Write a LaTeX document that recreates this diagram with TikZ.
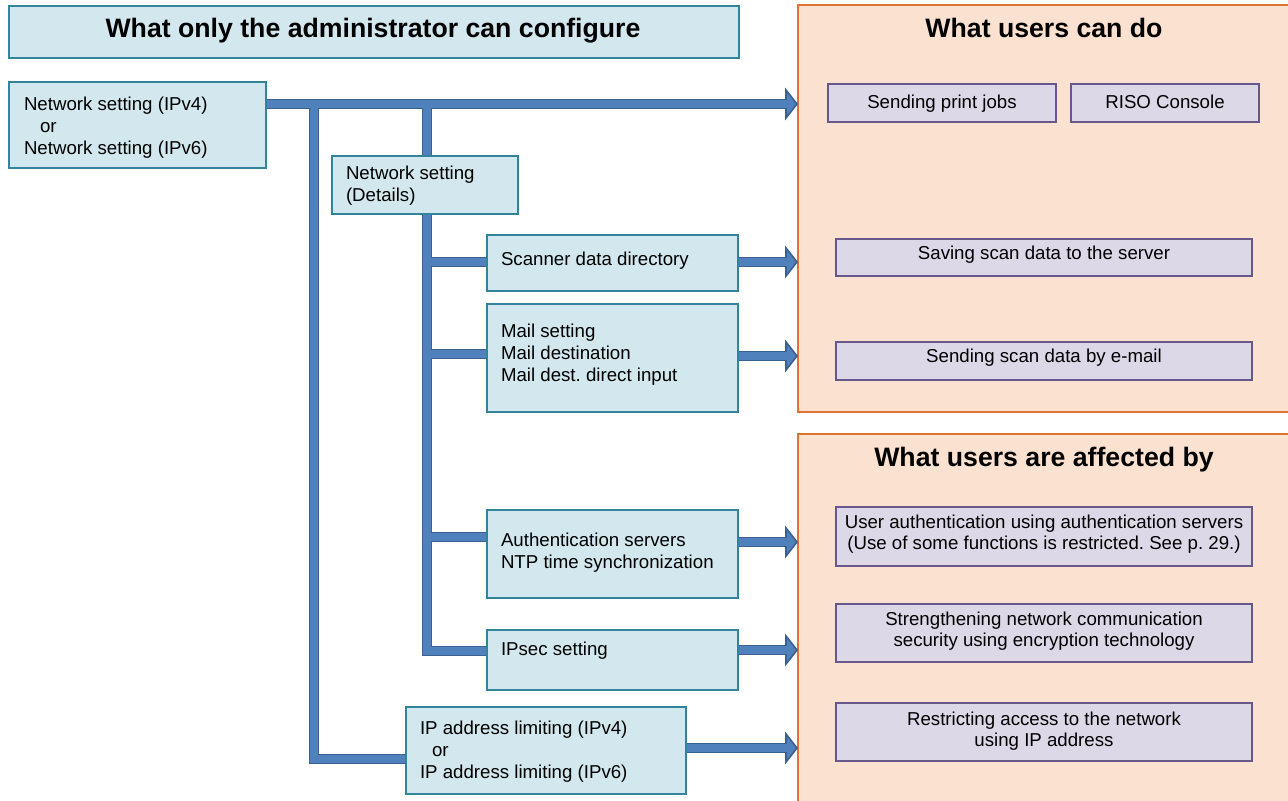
\documentclass[tikz,border=0pt]{standalone}
\usepackage{fontspec}
\setmainfont{Liberation Sans}
\usetikzlibrary{calc}
\frenchspacing
\pgfdeclarelayer{bg}
\pgfdeclarelayer{wires}
\pgfsetlayers{bg,wires,main}
\definecolor{cfgfill}{HTML}{D2E7EE}
\definecolor{cfgline}{HTML}{31849B}
\definecolor{panfill}{HTML}{FBE1CF}
\definecolor{panline}{HTML}{E07434}
\definecolor{usrfill}{HTML}{DDD8E8}
\definecolor{usrline}{HTML}{67578A}
\definecolor{wirefill}{HTML}{4F81BD}
\definecolor{wireline}{HTML}{3C6191}
\newcommand\mkbox[6]{\node[#6, minimum width={(#4-#2)*0.75pt}, minimum height={(#5-#3)*0.75pt}] (#1) at ({(#2+#4)/2},{(#3+#5)/2}) {};}
\newcommand\wireset[2]{%
  \draw[#1] (netbox.east |- tA) -- ($(tA)+(#2,0)$);
  \draw[#1] (v1a) -- (v1b) -- (ipbox.west |- v1b);
  \draw[#1] (v2a) -- (v2b) -- (ipsecbox.west |- v2b);
  \draw[#1] (bS) -- (scanbox.west |- bS);
  \draw[#1] (bM) -- (mailbox.west |- bM);
  \draw[#1] (bU) -- (authbox.west |- bU);
  \draw[#1] (scanbox.east |- tS) -- ($(tS)+(#2,0)$);
  \draw[#1] (mailbox.east |- tM) -- ($(tM)+(#2,0)$);
  \draw[#1] (authbox.east |- tU) -- ($(tU)+(#2,0)$);
  \draw[#1] (ipsecbox.east |- tI) -- ($(tI)+(#2,0)$);
  \draw[#1] (ipbox.east |- tL) -- ($(tL)+(#2,0)$);
}
\tikzset{
  cfg/.style={rectangle, draw=cfgline, fill=cfgfill, line width=1.6pt, inner sep=0pt, outer sep=0pt},
  usr/.style={rectangle, draw=usrline, fill=usrfill, line width=1.5pt, inner sep=0pt, outer sep=0pt},
  pan/.style={rectangle, draw=panline, fill=panfill, line width=1.9pt, inner sep=0pt, outer sep=0pt},
  txt/.style={inner sep=0pt, outer sep=0pt, font=\fontsize{14pt}{16.5pt}\selectfont, align=left, anchor=north west},
  ctxt/.style={inner sep=0pt, outer sep=0pt, font=\fontsize{14pt}{16pt}\selectfont, align=center, anchor=north},
  ttl/.style={inner sep=0pt, outer sep=0pt, font=\fontsize{20pt}{24pt}\selectfont\bfseries, anchor=north},
  wout/.style={draw=wireline, line width=8.2pt, line join=miter},
  win/.style={draw=wirefill, line width=5.4pt, line join=miter},
  arrowhd/.style={fill=wirefill, draw=wireline, line width=1.2pt, line join=miter}
}
\begin{document}
\begin{tikzpicture}[x=0.75pt, y=-0.75pt]
\useasboundingbox (0,0) rectangle (1288,800);
\begin{pgfonlayer}{bg}
  \fill[white] (0,0) rectangle (1288,800);
  \mkbox{panA}{798}{5}{1300}{412}{pan}
  \mkbox{panB}{798}{434}{1300}{812}{pan}
\end{pgfonlayer}
% left side boxes
\mkbox{titlebox}{9}{6}{739}{58}{cfg}
\mkbox{netbox}{9}{82}{266}{168}{cfg}
\mkbox{detbox}{332}{156}{518}{214}{cfg}
\mkbox{scanbox}{487}{235}{738}{291}{cfg}
\mkbox{mailbox}{487}{304}{738}{412}{cfg}
\mkbox{authbox}{487}{510}{738}{598}{cfg}
\mkbox{ipsecbox}{487}{630}{738}{690}{cfg}
\mkbox{ipbox}{406}{707}{686}{794}{cfg}
% user boxes
\mkbox{u1}{828}{84}{1056}{122}{usr}
\mkbox{u2}{1071}{84}{1259}{122}{usr}
\mkbox{u3}{836}{239}{1252}{276}{usr}
\mkbox{u4}{836}{342}{1252}{380}{usr}
\mkbox{u5}{836}{507}{1252}{566}{usr}
\mkbox{u6}{836}{604}{1252}{662}{usr}
\mkbox{u7}{836}{703}{1252}{761}{usr}
% titles
\node[ttl] (t1) at (373,18.5) {What only the administrator can configure};
\node[ttl] (t2) at (1044,18.5) {What users can do};
\node[ttl] (t3) at (1044,447.5) {What users are affected by};
% texts
\node[txt] (netT) at (24,97) {Network setting (IPv4)\\\hspace*{12pt}or\\Network setting (IPv6)};
\node[txt] (detT) at (346,166) {Network setting\\(Details)};
\node[txt] (scanT) at (501,252) {Scanner data directory};
\node[txt] (mailT) at (501,324) {Mail setting\\Mail destination\\Mail dest. direct input};
\node[txt] (authT) at (501,533) {Authentication servers\\NTP time synchronization};
\node[txt] (ipsecT) at (501,642) {IPsec setting};
\node[txt] (ipT) at (420,721) {IP address limiting (IPv4)\\\hspace*{9pt}or\\IP address limiting (IPv6)};
\node[ctxt] (u1T) at (942,95) {Sending print jobs};
\node[ctxt] (u2T) at (1165,95) {RISO Console};
\node[ctxt] (u3T) at (1044,246) {Saving scan data to the server};
\node[ctxt] (u4T) at (1044,349) {Sending scan data by e-mail};
\node[ctxt] (u5T) at (1044,515) {User authentication using authentication servers\\(Use of some functions is restricted. See p.~29.)};
\node[ctxt] (u6T) at (1044,612) {Strengthening network communication\\security using encryption technology};
\node[ctxt] (u7T) at (1044,712) {Restricting access to the network\\using IP address};
% connectors
\coordinate (tA) at (797,104);
\coordinate (tS) at (797,262);
\coordinate (tM) at (797,356);
\coordinate (tU) at (797,542);
\coordinate (tI) at (797,650);
\coordinate (tL) at (797,748);
\coordinate (v1a) at (314,104);
\coordinate (v1b) at (314,759);
\coordinate (v2a) at (427,104);
\coordinate (v2b) at (427,651);
\coordinate (bS) at (427,262);
\coordinate (bM) at (427,354);
\coordinate (bU) at (427,537);
\begin{pgfonlayer}{wires}
  \foreach \t in {tA,tS,tM,tU,tI,tL}
    \filldraw[arrowhd] (\t) -- ++(-11,-14) -- ++(0,28) -- cycle;
  \wireset{wout}{-11}
  \wireset{win}{-10}
\end{pgfonlayer}
\end{tikzpicture}
\end{document}
